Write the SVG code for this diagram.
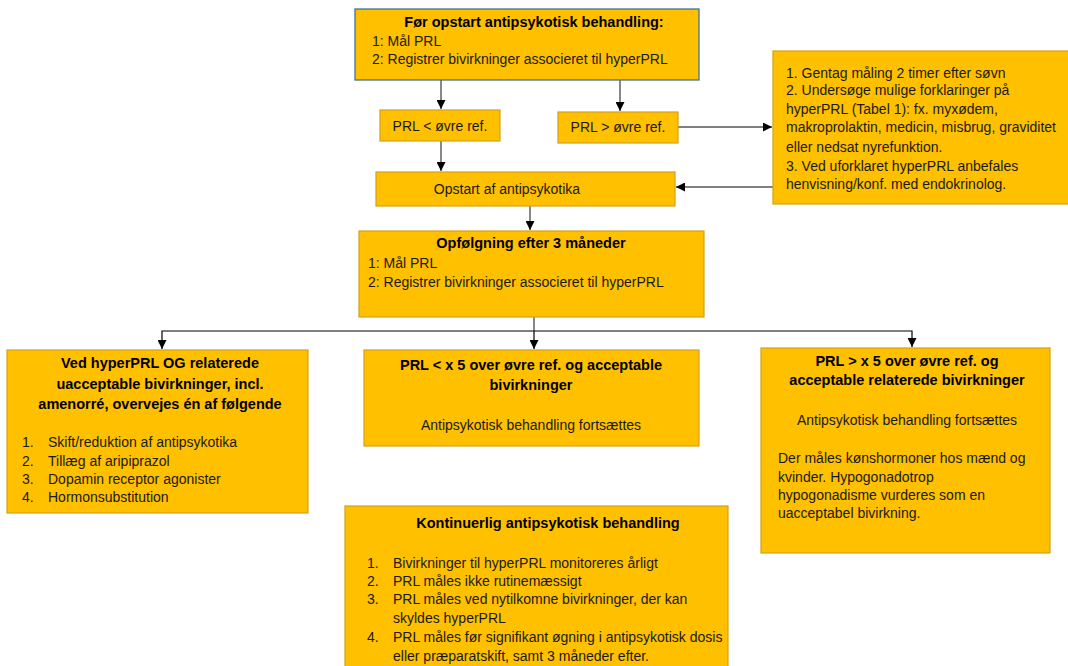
<svg xmlns="http://www.w3.org/2000/svg" width="1068" height="666" viewBox="0 0 1068 666">
<defs>
<marker id="ah" viewBox="0 0 10 10" refX="10" refY="5" markerWidth="9" markerHeight="9" markerUnits="userSpaceOnUse" orient="auto">
<path d="M0,0 L10,5 L0,10 z" fill="#000"/>
</marker>
</defs>
<style>
.box{fill:#FFC000;stroke:#D4A017;stroke-width:1.2}
.boxb{fill:#FFC000;stroke:#41719C;stroke-width:1.3}
text{font-family:"Liberation Sans",Arial,sans-serif;font-size:14px;fill:#1a1a1a}
.t{font-weight:bold;font-size:14.5px;fill:#000}
.c{text-anchor:middle}
.ln{fill:none;stroke:#000;stroke-width:1.2}
.lg{fill:none;stroke:#555;stroke-width:1.4}
</style>
<rect width="1068" height="666" fill="#fff"/>

<g id="connectors">
<path class="lg" d="M441,80 V109" marker-end="url(#ah)"/>
<path class="lg" d="M620,80 V111" marker-end="url(#ah)"/>
<path class="lg" d="M441,141 V171" marker-end="url(#ah)"/>
<path class="lg" d="M678,127 H772" marker-end="url(#ah)"/>
<path class="ln" d="M773,187 H676" marker-end="url(#ah)"/>
<path class="lg" d="M530,206 V230" marker-end="url(#ah)"/>
<path class="lg" d="M534,317 V331"/>
<path class="ln" d="M534,331 H162 V349" marker-end="url(#ah)"/>
<path class="ln" d="M534,331 V349" marker-end="url(#ah)"/>
<path class="ln" d="M534,331 H912 V347" marker-end="url(#ah)"/>
</g>

<g id="n-before">
<rect class="boxb" x="355" y="9" width="344" height="71"/>
<text class="t c" x="534" y="27">Før opstart antipsykotisk behandling:</text>
<text x="372" y="46">1: Mål PRL</text>
<text x="372" y="64">2: Registrer bivirkninger associeret til hyperPRL</text>
</g>

<g id="n-prl-low">
<rect class="box" x="380" y="110" width="120" height="31"/>
<text class="c" x="440" y="131">PRL &lt; øvre ref.</text>
</g>

<g id="n-prl-high">
<rect class="box" x="558" y="112" width="120" height="31"/>
<text class="c" x="618" y="132">PRL &gt; øvre ref.</text>
</g>

<g id="n-check">
<rect class="box" x="773" y="51" width="300" height="153"/>
<text x="786" y="78">1. Gentag måling 2 timer efter søvn</text>
<text x="786" y="95">2. Undersøge mulige forklaringer på</text>
<text x="786" y="114">hyperPRL (Tabel 1): fx. myxødem,</text>
<text x="786" y="132">makroprolaktin, medicin, misbrug, graviditet</text>
<text x="786" y="152">eller nedsat nyrefunktion.</text>
<text x="786" y="171">3. Ved uforklaret hyperPRL anbefales</text>
<text x="786" y="189">henvisning/konf. med endokrinolog.</text>
</g>

<g id="n-start">
<rect class="box" x="376" y="172" width="299" height="34"/>
<text class="c" x="507" y="194">Opstart af antipsykotika</text>
</g>

<g id="n-followup">
<rect class="box" x="359" y="231" width="345" height="86"/>
<text class="t c" x="531" y="248">Opfølgning efter 3 måneder</text>
<text x="368" y="268">1: Mål PRL</text>
<text x="368" y="287">2: Registrer bivirkninger associeret til hyperPRL</text>
</g>

<g id="n-unacceptable">
<rect class="box" x="7" y="350" width="301" height="163"/>
<text class="t c" x="160" y="368">Ved hyperPRL OG relaterede</text>
<text class="t c" x="160" y="389">uacceptable bivirkninger, incl.</text>
<text class="t c" x="160" y="409">amenorré, overvejes én af følgende</text>
<text x="22" y="447">1.</text><text x="48" y="447">Skift/reduktion af antipsykotika</text>
<text x="22" y="466">2.</text><text x="48" y="466">Tillæg af aripiprazol</text>
<text x="22" y="484">3.</text><text x="48" y="484">Dopamin receptor agonister</text>
<text x="22" y="502">4.</text><text x="48" y="502">Hormonsubstitution</text>
</g>

<g id="n-under5">
<rect class="box" x="364" y="350" width="335" height="96"/>
<text class="t c" x="531" y="370">PRL &lt; x 5 over øvre ref. og acceptable</text>
<text class="t c" x="531" y="390">bivirkninger</text>
<text class="c" x="531" y="430">Antipsykotisk behandling fortsættes</text>
</g>

<g id="n-over5">
<rect class="box" x="761" y="348" width="289" height="205"/>
<text class="t c" x="907" y="366">PRL &gt; x 5 over øvre ref. og</text>
<text class="t c" x="907" y="385">acceptable relaterede bivirkninger</text>
<text class="c" x="907" y="425">Antipsykotisk behandling fortsættes</text>
<text x="778" y="463">Der måles kønshormoner hos mænd og</text>
<text x="778" y="482">kvinder. Hypogonadotrop</text>
<text x="778" y="500">hypogonadisme vurderes som en</text>
<text x="778" y="518">uacceptabel bivirkning.</text>
</g>

<g id="n-continuous">
<rect class="box" x="345" y="506" width="383" height="170"/>
<text class="t c" x="548" y="528">Kontinuerlig antipsykotisk behandling</text>
<text x="367" y="568">1.</text><text x="393" y="568">Bivirkninger til hyperPRL monitoreres årligt</text>
<text x="367" y="586">2.</text><text x="393" y="586">PRL måles ikke rutinemæssigt</text>
<text x="367" y="604">3.</text><text x="393" y="604">PRL måles ved nytilkomne bivirkninger, der kan</text>
<text x="393" y="623">skyldes hyperPRL</text>
<text x="367" y="642">4.</text><text x="393" y="642">PRL måles før signifikant øgning i antipsykotisk dosis</text>
<text x="393" y="661">eller præparatskift, samt 3 måneder efter.</text>
</g>
</svg>
